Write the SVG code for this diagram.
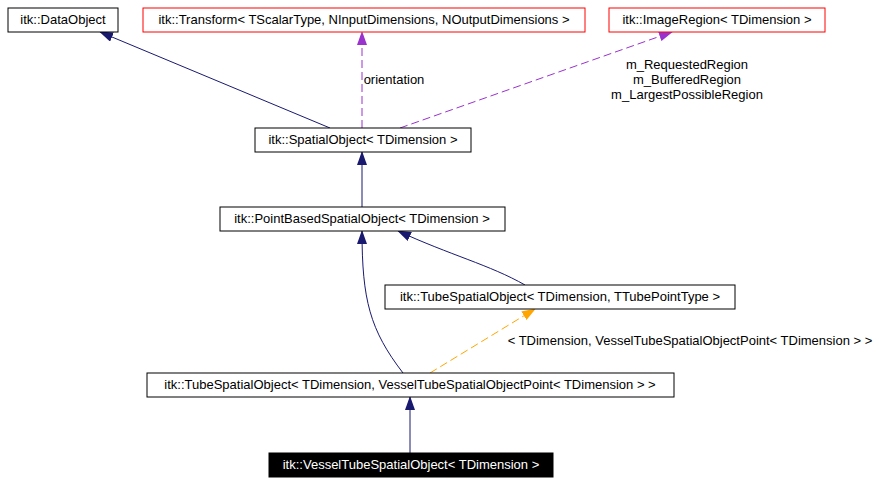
<svg xmlns="http://www.w3.org/2000/svg" width="879" height="484" viewBox="0 0 879 484">
<style>
text{font-family:"Liberation Sans",Arial,sans-serif;font-size:13px;text-anchor:middle}
.n{fill:#fff;stroke:#000;stroke-width:1}
.r{fill:#fff;stroke:#ff0000;stroke-width:1}
.e{fill:none;stroke:#191970;stroke-width:1}
.p{fill:none;stroke:#9a32cd;stroke-width:1;stroke-dasharray:8,4}
.o{fill:none;stroke:#ffa500;stroke-width:1;stroke-dasharray:8,4}
</style>
<defs>
<marker id="an" markerWidth="14" markerHeight="10" refX="13" refY="5" orient="auto" markerUnits="userSpaceOnUse"><path d="M0,0L14,5L0,10z" fill="#191970"/></marker>
<marker id="ap" markerWidth="14" markerHeight="10" refX="13" refY="5" orient="auto" markerUnits="userSpaceOnUse"><path d="M0,0L14,5L0,10z" fill="#9a32cd"/></marker>
<marker id="ao" markerWidth="14" markerHeight="10" refX="13" refY="5" orient="auto" markerUnits="userSpaceOnUse"><path d="M0,0L14,5L0,10z" fill="#ffa500"/></marker>
</defs>
<rect width="879" height="484" fill="#fff"/>
<g id="connectors">
<path class="e" d="M330,128L100,32" marker-end="url(#an)"/>
<path class="p" d="M362,128L362,32" marker-end="url(#ap)"/>
<text x="394" y="84">orientation</text>
<path class="p" d="M400,128L672,32" marker-end="url(#ap)"/>
<text x="687" y="69">m_RequestedRegion</text>
<text x="687" y="84">m_BufferedRegion</text>
<text x="687" y="99">m_LargestPossibleRegion</text>
<path class="e" d="M362,207L362,152" marker-end="url(#an)"/>
<path class="e" d="M525,285C490,265 450,255 398,231" marker-end="url(#an)"/>
<path class="e" d="M403,373C370,330 362,300 362,231" marker-end="url(#an)"/>
<path class="o" d="M430,373L535,309" marker-end="url(#ao)"/>
<text x="690" y="345">&lt; TDimension, VesselTubeSpatialObjectPoint&lt; TDimension &gt; &gt;</text>
<path class="e" d="M410,453L410,397" marker-end="url(#an)"/>
</g>
<g id="n1"><rect class="n" x="8" y="8" width="110" height="24"/><text x="63" y="24">itk::DataObject</text></g>
<g id="n2"><rect class="r" x="143" y="8" width="442" height="24"/><text x="364" y="24">itk::Transform&lt; TScalarType, NInputDimensions, NOutputDimensions &gt;</text></g>
<g id="n3"><rect class="r" x="609" y="8" width="216" height="24"/><text x="717" y="24">itk::ImageRegion&lt; TDimension &gt;</text></g>
<g id="n4"><rect class="n" x="255" y="128" width="216" height="24"/><text x="363" y="144">itk::SpatialObject&lt; TDimension &gt;</text></g>
<g id="n5"><rect class="n" x="220" y="207" width="285" height="24"/><text x="362" y="223">itk::PointBasedSpatialObject&lt; TDimension &gt;</text></g>
<g id="n6"><rect class="n" x="385" y="285" width="350" height="24"/><text x="560" y="301">itk::TubeSpatialObject&lt; TDimension, TTubePointType &gt;</text></g>
<g id="n7"><rect class="n" x="147" y="373" width="527" height="24"/><text x="410" y="389">itk::TubeSpatialObject&lt; TDimension, VesselTubeSpatialObjectPoint&lt; TDimension &gt; &gt;</text></g>
<g id="n8"><rect x="269" y="453" width="284" height="24" fill="#000" stroke="#000"/><text x="411" y="469" fill="#fff">itk::VesselTubeSpatialObject&lt; TDimension &gt;</text></g>
</svg>
